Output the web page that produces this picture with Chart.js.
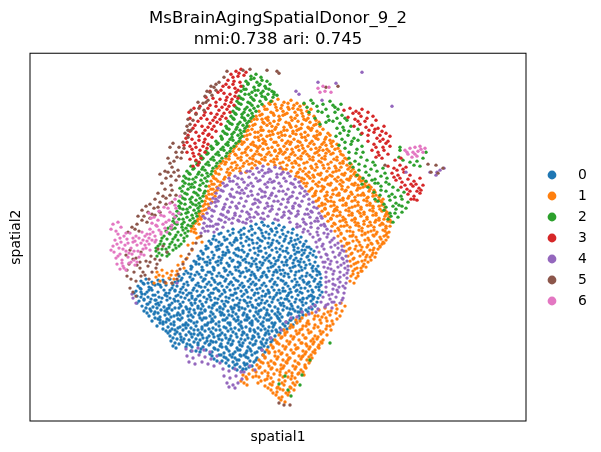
<!DOCTYPE html>
<html>
<head>
<meta charset="utf-8">
<style>
  html, body { margin: 0; padding: 0; background: #fff; }
  canvas { display: block; }
</style>
<script src="https://cdn.jsdelivr.net/npm/chart.js@4/dist/chart.umd.min.js"></script>
</head>
<body>
<canvas id="chart" width="601" height="452"></canvas>
<script>
const clusterNames = ['0', '1', '2', '3', '4', '5', '6'];
const clusterColors = ['#1f77b4', '#ff7f0e', '#2ca02c', '#d62728', '#9467bd', '#8c564b', '#e377c2'];

// flat x,y pairs
const cluster0 = [
256,224,262,222,268,226,273,223,279,225,284,227,259,228,
228,231,233,229,239,232,244,228,249,231,255,233,261,230,266,232,271,229,277,232,282,230,288,232,293,229,
214,236,219,234,224,237,230,235,236,238,241,235,247,237,252,235,258,238,263,236,269,238,275,235,280,237,286,236,291,238,297,235,301,237,
209,241,213,239,219,242,225,240,230,243,235,240,241,243,246,241,252,240,257,243,262,241,268,243,273,240,279,243,284,241,289,243,295,240,300,242,306,241,
206,246,211,244,216,247,221,245,227,247,232,245,238,248,243,246,249,245,254,248,260,246,265,248,271,245,276,248,282,246,287,248,293,245,298,248,303,246,309,247,
201,251,206,249,212,252,217,250,223,252,228,250,234,253,239,250,244,252,250,250,255,253,261,251,266,253,272,250,277,252,283,251,288,253,294,250,299,252,305,250,310,253,314,251,
198,256,203,254,208,257,214,255,219,257,225,255,230,258,236,255,241,257,247,256,252,258,258,255,263,257,269,256,274,258,280,255,285,257,291,256,296,258,302,255,307,257,313,255,
194,261,199,259,205,262,210,260,216,262,221,260,227,263,232,261,238,262,243,260,249,263,254,261,260,262,265,260,271,263,276,261,282,262,287,260,293,263,298,261,304,262,309,260,315,262,
191,266,196,264,202,267,207,265,213,267,218,265,224,268,229,266,235,267,240,265,246,268,251,266,257,267,262,265,268,268,273,266,279,267,284,265,290,268,295,266,301,267,306,265,312,268,318,266,
186,271,191,269,197,272,202,270,208,272,214,270,219,273,225,271,230,272,236,270,241,273,247,271,252,272,258,270,263,273,269,271,274,272,280,270,285,273,291,271,296,272,302,270,307,273,313,271,319,272,
179,276,184,274,190,277,195,275,201,277,206,275,212,278,217,276,223,277,228,275,234,278,240,276,245,277,251,275,256,278,262,276,267,277,273,275,278,278,284,276,289,277,295,275,300,278,306,276,312,277,317,275,321,278,
141,281,146,279,152,282,158,280,164,282,170,279,175,282,181,280,187,282,192,280,198,283,203,281,209,282,214,280,220,283,225,281,231,282,236,280,242,283,248,281,253,282,259,280,264,283,270,281,275,282,281,280,286,283,292,281,297,282,303,280,308,283,314,281,320,282,
138,286,144,284,149,287,155,285,161,287,166,285,172,288,177,286,183,287,188,285,194,288,199,286,205,287,211,285,216,288,222,286,227,287,233,285,238,288,244,286,249,287,255,285,260,288,266,286,272,287,277,285,283,288,288,286,294,287,299,285,305,288,310,286,316,287,321,285,
136,291,141,289,147,292,152,290,158,292,164,290,169,293,175,291,180,292,186,290,191,293,197,291,202,292,208,290,213,293,219,291,225,292,230,290,236,293,241,291,247,292,252,290,258,293,263,291,269,292,274,290,280,293,285,291,291,292,297,290,302,293,308,291,313,292,319,290,
137,296,142,294,148,297,153,295,159,297,165,295,170,298,176,296,181,297,187,295,192,298,198,296,204,297,209,295,215,298,220,296,226,297,231,295,237,298,242,296,248,297,254,295,259,298,265,296,270,297,276,295,281,298,287,296,292,297,298,295,303,298,309,296,314,297,320,295,
139,301,144,299,150,302,156,300,161,302,167,300,172,303,178,301,183,302,189,300,195,303,200,301,206,302,211,300,217,303,222,301,228,302,233,300,239,303,245,301,250,302,256,300,261,303,267,301,272,302,278,300,283,303,289,301,295,302,300,300,306,303,311,301,317,302,
142,306,148,304,153,307,159,305,164,307,170,305,175,308,181,306,186,307,192,305,198,308,203,306,209,307,214,305,220,308,225,306,231,307,237,305,242,308,248,306,253,307,259,305,264,308,270,306,275,307,281,305,287,308,292,306,298,307,303,305,309,308,315,306,
144,311,150,309,155,312,161,310,167,312,172,310,178,313,183,311,189,312,194,310,200,313,205,311,211,312,217,310,222,313,228,311,233,312,239,310,244,313,250,311,256,312,261,310,267,313,272,311,278,312,283,310,289,313,295,311,300,312,306,310,
149,316,154,314,160,317,165,315,171,317,177,315,182,318,188,316,193,317,199,315,204,318,210,316,215,317,221,315,227,318,232,316,238,317,243,315,249,318,254,316,260,317,266,315,271,318,277,316,282,317,288,315,293,318,299,316,303,315,
152,321,158,319,163,322,169,320,174,322,180,320,186,323,191,321,197,322,202,320,208,323,213,321,219,322,225,320,230,323,236,321,241,322,247,320,252,323,258,321,263,322,269,320,275,323,280,321,286,322,291,320,296,322,
157,326,163,324,168,327,174,325,180,327,185,325,191,328,196,326,202,327,207,325,213,328,219,326,224,327,230,325,235,328,241,326,246,327,252,325,258,328,263,326,269,327,274,325,280,328,285,326,290,327,
166,331,172,329,177,332,183,330,189,332,194,330,200,333,205,331,211,332,216,330,222,333,228,331,233,332,239,330,244,333,250,331,255,332,261,330,266,333,272,331,277,332,283,330,
170,336,175,334,181,337,186,335,192,337,198,335,203,338,209,336,214,337,220,335,226,338,231,336,237,337,242,335,248,338,253,336,259,337,265,335,270,338,275,336,
171,341,177,339,183,342,189,340,194,342,200,340,205,343,211,341,216,342,222,340,228,343,233,341,239,342,245,340,250,343,256,341,261,342,267,340,271,342,
173,346,179,344,192,347,198,345,203,347,209,345,214,348,220,346,226,347,231,345,237,348,242,346,248,347,253,345,259,348,264,346,268,347,
191,351,206,350,212,352,218,350,224,353,229,351,235,352,240,350,246,353,251,351,257,352,262,350,265,352,
212,356,219,355,224,357,230,355,235,358,241,356,246,357,252,355,257,358,
222,361,228,360,233,362,239,360,244,363,250,361,254,362,
229,366,235,365,240,367,245,365,249,367,
237,370,242,371,246,369,
// second pass, filling the gaps
264,225,276,228,241,230,252,229,269,234,292,233,298,239,221,233,227,239,233,233,244,234,260,240,283,234,304,244,
211,243,222,244,234,242,249,239,265,238,277,241,291,241,302,250,208,248,219,249,229,252,242,250,253,243,269,247,280,249,296,244,311,249,
203,253,213,258,226,253,236,249,248,254,259,251,270,255,286,251,297,252,308,256,200,258,210,263,222,258,233,260,245,259,256,259,267,258,278,260,290,258,301,259,316,257,
196,262,207,262,218,261,229,265,240,263,252,264,263,263,275,264,286,262,299,265,310,264,192,267,203,270,214,268,226,270,238,267,249,270,260,268,271,267,283,270,293,267,305,268,316,269,
188,273,199,274,210,272,221,276,232,274,243,272,254,274,266,275,277,272,288,274,299,271,310,275,320,274,
182,278,193,279,204,279,215,282,226,279,238,281,250,279,261,277,272,279,283,281,295,279,304,282,315,279,
143,283,153,284,163,280,173,285,184,284,196,285,207,284,218,284,229,284,240,285,251,284,262,285,274,284,285,284,296,285,307,284,318,284,
140,288,151,288,160,285,170,290,181,289,193,290,203,291,214,289,224,290,235,289,246,290,257,289,268,290,279,290,290,289,301,288,312,290,
134,293,145,294,155,295,166,293,178,295,189,293,200,295,211,293,222,294,233,295,244,294,255,293,266,294,277,293,288,295,300,292,311,295,322,292,
141,297,151,299,162,298,174,299,185,298,196,299,207,299,218,299,229,298,240,300,251,298,262,300,273,299,285,299,296,299,307,298,318,298,
137,303,147,304,158,303,169,305,180,304,191,303,202,304,213,305,224,304,235,305,247,303,258,304,269,305,280,303,291,304,302,302,313,304,
146,308,157,308,167,309,179,308,190,309,201,309,212,308,223,309,234,308,245,309,256,308,267,310,278,309,290,309,301,309,312,309,
147,313,158,313,169,314,180,315,191,315,202,313,213,314,224,315,236,314,247,315,258,314,269,315,280,314,291,314,302,312,
155,318,167,319,178,319,189,320,200,318,212,319,223,320,234,319,245,320,256,319,267,320,279,319,290,320,300,319,
160,323,171,324,183,325,194,323,205,325,216,324,228,323,239,324,250,323,261,324,272,323,283,324,293,325,
163,329,175,330,186,328,198,330,209,329,220,330,231,329,242,328,254,330,265,329,276,330,287,329,
168,333,180,334,191,334,202,335,213,334,225,335,236,334,247,335,258,334,269,334,280,333,
173,338,184,339,196,339,207,338,219,339,230,339,241,339,252,339,263,339,273,340,
175,343,187,344,198,343,210,344,221,344,232,344,243,343,255,344,266,343,
176,348,186,347,201,349,215,349,227,349,238,350,250,349,261,348,
196,351,210,354,221,355,233,354,244,355,255,353,263,355,
214,359,226,358,237,360,248,358,256,360,
226,363,237,364,247,364,252,366,233,368,243,369,
// third pass, loose points
237,240,251,226,272,231,216,240,294,247,223,255,258,248,279,257,304,253,199,264,238,256,287,265,212,274,264,272,300,262,191,274,246,262,276,270,317,271,
158,284,178,281,149,290,201,287,231,282,256,284,283,291,309,282,167,296,192,296,218,290,243,287,269,293,296,291,319,287,144,300,183,293,210,297,235,293,262,296,289,293,313,299,
156,304,175,301,198,306,226,301,252,305,274,297,303,299,165,311,187,309,215,303,239,307,265,303,293,309,151,311,174,316,205,310,232,309,259,311,284,306,308,312,
160,320,195,313,220,312,247,317,275,314,298,312,166,322,188,325,211,322,238,320,264,318,288,323,178,328,202,329,226,328,250,329,273,327,170,331,194,334,218,336,243,332,268,331,
181,340,207,341,229,340,254,337,190,345,213,342,240,345,262,344,200,352,222,347,247,351,217,361,240,355,232,357,
148,283,175,290,205,279,255,276,281,274,269,261,294,260,218,246,241,238,262,233,285,239,
287,299,312,296,244,300,220,307,195,300,169,308,141,292,155,300,183,313,206,318,229,315,252,321,278,318,
302,276,313,266,239,271,221,263,203,259,256,264,272,243,295,254,307,247,
// end of blue
];
const cluster1 = [
272,101,278,99,284,102,291,100,297,103,
264,106,270,104,276,107,282,105,288,107,294,105,300,106,304,104,
259,111,265,109,271,112,277,110,283,111,289,109,295,112,301,110,307,111,311,109,
256,116,262,114,268,117,274,115,279,116,285,114,291,117,297,115,303,116,309,114,314,116,
251,121,257,119,263,122,268,120,274,121,280,119,286,122,292,120,298,121,304,119,310,122,316,120,319,122,
249,126,255,124,261,127,267,125,272,126,278,124,284,127,290,125,296,126,302,124,308,127,314,125,320,126,
246,131,252,129,258,132,263,130,269,131,275,129,281,132,287,130,293,131,299,129,305,132,311,130,317,131,323,129,
244,136,250,134,255,137,261,135,267,136,273,134,279,137,285,135,290,136,296,134,302,137,308,135,314,136,320,134,326,137,330,135,
241,141,247,139,253,142,259,140,265,141,271,139,276,142,282,140,288,141,294,139,300,142,306,140,312,141,318,139,324,142,330,140,333,141,
236,146,242,144,248,147,254,145,260,146,266,144,272,147,278,145,284,146,290,144,296,147,302,145,308,146,314,144,320,147,326,145,332,146,337,144,
233,151,239,149,245,152,251,150,257,151,263,149,269,152,275,150,281,151,287,149,293,152,299,150,305,151,311,149,317,152,323,150,329,151,335,149,340,151,
229,156,235,154,241,157,247,155,253,156,259,154,265,157,271,155,277,156,283,154,289,157,295,155,301,156,307,154,313,157,319,155,325,156,331,154,337,157,343,155,
223,161,229,159,235,162,241,160,247,161,253,159,259,162,265,160,271,161,277,159,283,162,289,160,295,161,301,159,307,162,313,160,319,161,325,159,331,162,337,160,343,161,347,159,
219,166,225,164,231,167,237,165,243,166,249,164,255,165,260,163,275,165,281,167,287,165,293,167,299,165,305,168,311,166,317,167,323,165,329,168,335,166,341,167,347,165,350,167,
215,171,221,169,227,172,233,170,240,171,291,171,297,173,303,171,309,172,315,170,321,173,327,171,333,172,339,170,345,173,351,171,355,172,
213,176,219,174,225,177,229,175,296,176,302,178,308,176,314,177,320,175,326,178,332,176,338,177,344,175,350,178,356,176,360,177,
211,181,216,179,221,182,301,181,307,183,313,181,319,182,325,180,331,183,337,181,343,182,349,180,355,183,361,181,366,182,
209,186,214,184,217,187,306,186,312,188,318,186,324,187,330,185,336,188,342,186,348,187,354,185,360,188,366,186,371,187,
208,191,213,189,215,192,309,191,315,193,321,191,327,192,333,190,339,193,345,191,351,192,357,190,363,193,369,191,375,192,
206,196,212,194,313,196,319,198,325,196,331,197,337,195,343,198,349,196,355,197,361,195,367,198,373,196,379,197,
205,201,210,199,316,201,322,203,328,201,334,202,340,200,346,203,352,201,358,202,364,200,370,203,376,201,382,202,
203,206,208,204,319,206,325,208,331,206,337,207,343,205,349,208,355,206,361,207,367,205,373,208,379,206,385,207,
201,211,206,209,322,211,328,213,334,211,340,212,346,210,352,213,358,211,364,212,370,210,376,213,382,211,387,212,
199,216,203,214,325,216,331,218,337,216,343,217,349,215,355,218,361,216,367,217,373,215,379,218,385,216,389,217,
197,221,201,219,328,221,334,223,340,221,346,222,352,220,358,223,364,221,370,222,376,220,382,223,388,221,391,222,
193,226,199,224,332,226,338,228,344,226,350,227,356,225,362,228,368,226,374,227,380,225,386,228,390,226,
191,231,195,229,335,231,341,233,347,231,353,232,359,230,365,233,371,231,377,232,383,230,389,232,
338,236,344,238,350,236,356,237,362,235,368,238,374,236,380,237,386,235,388,237,
341,241,347,243,353,241,359,242,365,240,371,243,377,241,383,242,386,240,
344,246,350,248,356,246,362,247,368,245,374,248,380,246,382,244,
346,251,352,253,358,251,364,252,370,250,376,253,378,249,
348,256,354,258,360,256,366,257,372,255,375,257,
350,261,356,263,362,261,368,262,371,260,
351,266,357,268,363,266,366,267,
353,271,358,273,362,271,351,276,356,278,350,281,354,283,
// second pass
275,104,288,103,267,109,281,108,298,109,260,115,273,113,287,113,302,113,254,119,266,118,279,120,295,118,308,118,
253,125,264,123,276,127,289,123,301,128,316,124,248,130,261,130,272,131,284,130,297,130,309,128,320,133,
247,135,258,137,270,135,282,135,293,133,305,137,317,135,328,133,238,143,251,144,263,143,274,142,286,143,298,141,310,143,322,144,331,143,
234,148,246,149,258,148,268,148,280,149,292,149,303,148,316,148,327,149,338,148,230,153,242,153,255,154,267,154,279,153,291,154,303,153,315,153,326,153,341,154,
226,158,238,158,250,158,262,159,274,159,286,158,298,158,310,159,322,158,334,159,345,158,221,163,232,163,244,163,256,161,268,164,280,163,292,163,304,163,316,164,328,164,340,163,351,164,
217,168,228,169,240,168,252,168,286,169,300,169,312,168,324,168,336,168,348,169,353,169,216,173,230,173,298,172,306,174,318,174,330,175,342,174,354,174,358,175,
214,178,224,179,299,177,310,178,322,179,335,179,347,179,359,179,363,180,212,184,220,185,304,183,316,184,328,184,340,184,352,184,364,184,369,185,
211,189,217,190,311,189,323,189,336,189,346,190,358,188,370,189,374,190,209,194,215,196,315,195,327,195,339,195,352,194,364,195,376,195,
207,198,212,202,318,200,331,201,343,200,355,200,367,201,379,200,383,199,205,204,209,207,322,205,334,205,346,205,358,205,370,205,382,205,
204,210,199,213,325,209,337,210,349,211,361,209,373,211,385,210,201,217,328,214,340,215,352,215,364,214,376,215,388,214,
195,223,198,219,331,219,343,220,355,219,367,219,379,220,390,220,192,228,194,232,335,224,347,225,359,226,371,225,383,224,
339,230,350,231,362,231,374,230,385,231,341,234,353,235,365,234,376,234,387,233,345,239,357,240,369,240,381,239,
347,244,360,245,372,244,384,243,349,249,361,250,373,250,380,247,351,254,363,254,373,253,353,259,365,260,370,257,
354,264,364,264,355,269,361,268,353,274,358,276,
// third pass, loose points
269,103,293,108,283,115,262,119,306,120,270,123,291,127,312,128,255,132,278,133,301,134,325,139,263,139,244,142,291,142,316,138,
256,146,275,151,298,146,319,150,236,155,261,155,285,152,309,156,333,153,226,162,252,163,274,162,296,163,321,162,343,163,
236,168,246,172,283,169,313,175,336,171,351,176,218,181,304,179,327,177,341,180,358,185,322,186,342,189,363,187,373,193,
316,191,333,194,358,195,381,201,326,199,348,198,368,197,325,204,352,207,373,206,386,214,335,209,360,213,380,209,
333,215,355,222,375,222,345,219,364,224,384,219,341,226,368,232,386,226,352,236,373,235,384,236,349,243,367,247,378,243,
355,249,367,255,358,262,361,271,
// lower wedge
336,305,341,303,345,306,
319,310,325,308,331,311,337,309,342,311,
306,315,312,313,318,316,324,314,330,315,336,313,340,316,
296,320,302,318,308,321,314,319,320,320,326,318,332,321,337,319,
291,325,297,323,303,326,309,324,315,325,321,323,327,326,333,324,
284,330,290,328,296,331,302,329,308,330,314,328,320,331,326,329,331,330,
279,335,285,333,291,336,297,334,303,335,309,333,315,336,321,334,327,335,
275,340,281,338,287,341,293,339,299,340,305,338,311,341,317,339,323,340,
271,345,277,343,283,346,289,344,295,345,301,343,307,346,313,344,319,345,322,343,
267,350,273,348,279,351,285,349,291,350,297,348,303,351,309,349,315,350,319,348,
263,355,269,353,275,356,281,354,287,355,293,353,299,356,305,354,311,355,315,353,
259,360,265,358,271,361,277,359,283,360,289,358,295,361,301,359,307,360,312,358,
257,365,263,363,269,366,275,364,281,365,287,363,293,366,299,364,305,365,309,363,
253,370,259,368,265,371,271,369,277,370,283,368,289,371,295,369,301,370,306,368,
243,375,249,374,256,376,262,373,268,376,274,374,280,375,286,373,292,376,298,374,304,375,
241,381,247,379,261,381,267,379,273,382,279,380,285,381,291,379,297,382,
247,385,265,386,272,385,278,387,284,385,290,387,295,385,
271,390,277,392,283,390,289,392,294,390,
276,395,282,397,288,395,
281,400,285,402,
// lower wedge, second pass
328,312,315,316,300,321,327,321,293,327,306,326,318,327,330,326,287,332,299,333,311,332,323,332,282,337,294,337,306,338,318,337,
277,342,290,342,302,343,314,342,321,342,273,347,286,347,298,348,310,347,318,347,269,352,282,353,294,353,306,352,313,352,
265,357,278,357,290,358,302,357,309,357,261,362,274,363,286,362,298,363,310,361,260,367,272,368,284,366,296,367,305,367,
256,372,268,373,280,372,292,373,303,372,246,377,259,377,271,378,283,377,295,378,244,383,258,383,270,384,282,383,293,383,
268,388,280,389,291,388,273,393,286,393,279,398,
// lower wedge, loose points
322,317,307,323,285,335,300,330,313,339,279,344,296,349,306,344,275,352,288,360,303,356,268,363,281,369,299,373,253,377,265,380,288,377,277,388,
// small patch left of the blue
157,272,162,270,167,273,172,271,176,275,163,276,169,278,156,277,174,279,160,281,166,283,172,283,154,283,
178,265,183,262,187,258,181,256,192,250,188,245,193,243,197,238,184,268,159,275,171,275,177,271,
// scattered specks
196,233,199,237,202,242
];
const cluster2 = [
251,76,256,74,261,77,
246,81,251,79,257,82,262,80,267,81,
243,86,248,84,254,87,259,85,265,86,270,84,
241,91,246,89,252,92,258,90,263,91,269,89,274,92,
239,96,245,94,251,97,256,95,262,96,268,94,273,97,277,95,
237,101,243,99,248,102,254,100,260,101,266,99,271,101,
235,106,241,104,247,107,252,105,258,106,
233,111,239,109,244,112,250,110,256,111,
231,116,236,114,242,117,248,115,253,116,
228,121,234,119,240,122,245,120,249,121,
226,126,232,124,237,127,243,125,247,126,
223,131,229,129,234,132,240,130,244,131,
221,136,227,134,232,137,238,135,242,136,
216,141,222,139,228,142,233,140,239,141,
211,146,217,144,223,147,228,145,234,146,
206,151,212,149,218,152,224,150,230,151,
201,156,207,154,213,157,219,155,226,156,
196,161,202,159,208,162,214,160,220,161,
191,166,197,164,203,167,209,165,216,166,
187,171,193,169,199,172,205,170,212,171,
184,176,190,174,196,177,202,175,208,176,211,174,
183,181,189,179,195,182,201,180,207,181,
183,186,189,184,194,187,200,185,206,186,
182,191,188,189,194,192,200,190,205,191,
181,196,187,194,192,197,198,195,203,196,
179,201,185,199,191,202,196,200,202,201,
179,206,185,204,190,207,196,205,200,206,
177,211,183,209,188,212,194,210,199,211,
176,216,181,214,187,217,192,215,197,216,
173,221,179,219,184,222,190,220,195,221,
171,226,177,224,182,227,188,225,191,226,
166,231,172,229,178,232,183,230,188,231,
164,236,170,234,175,237,181,235,187,236,
161,241,167,239,172,242,178,240,184,241,
158,246,164,244,169,247,175,245,179,246,
156,251,162,249,167,252,173,250,
157,256,162,255,167,256,
// second pass
254,78,248,83,260,84,244,89,255,90,266,88,249,94,261,93,272,91,241,98,253,99,265,97,274,94,239,103,250,103,262,104,
237,108,245,109,254,108,235,113,242,114,252,113,233,118,244,118,251,118,230,123,238,124,247,123,227,128,236,129,245,128,
225,133,232,134,241,133,222,138,230,139,240,138,218,143,226,144,236,143,213,148,221,149,231,148,208,153,216,154,227,153,
203,158,211,159,222,158,199,163,206,164,217,163,194,168,202,169,213,168,189,173,198,174,207,173,186,178,193,179,205,178,
185,183,192,184,203,183,180,188,191,187,199,189,185,193,196,193,204,193,183,198,190,199,200,198,181,203,193,204,199,203,
180,208,187,209,198,208,179,213,186,213,196,213,174,218,183,219,193,218,175,223,182,224,193,223,168,228,175,228,186,228,
169,233,176,235,185,233,162,238,173,239,184,238,160,244,170,244,181,244,156,248,166,249,176,248,159,253,169,254,
// right band
304,103,311,100,317,106,323,104,330,101,335,107,341,104,309,112,315,118,322,112,328,116,335,112,342,115,320,124,326,122,333,121,340,123,347,120,
337,128,344,130,351,126,358,129,336,136,342,139,348,135,354,138,361,134,339,145,345,148,351,144,357,149,362,146,
349,158,355,161,361,157,367,160,373,162,353,167,359,170,365,166,371,169,377,171,383,168,357,175,363,178,369,175,375,179,381,176,387,178,362,184,368,187,375,183,381,186,389,184,
374,192,380,195,386,191,392,194,398,190,404,192,378,201,384,204,390,200,396,203,402,199,408,202,384,210,390,213,396,209,402,212,406,208,388,219,393,222,398,217,
// right band, second pass
307,107,313,103,326,109,333,105,318,111,338,109,345,118,329,120,337,118,343,127,349,131,340,133,345,142,352,141,358,140,
356,153,349,152,363,152,359,164,350,163,366,172,375,165,385,173,378,183,386,182,393,187,372,180,366,181,381,190,389,196,395,197,
401,196,375,199,386,207,393,206,399,205,391,216,395,213,402,206,
// upper-right and stray specks
400,150,399,157,403,160,410,162,417,161,423,158,426,152,414,165,420,166,400,147,
279,384,285,376,300,385,291,396,288,390,302,375,310,360,330,343
];
const cluster3 = [
236,71,241,69,246,72,231,74,238,76,244,75,228,80,234,81,240,82,223,86,229,87,235,88,241,86,218,92,224,93,230,94,236,92,
213,98,220,99,226,100,232,99,238,98,210,105,216,106,222,107,229,106,234,105,205,112,211,113,217,114,224,113,230,112,
201,118,207,119,213,120,220,119,226,118,195,125,202,126,208,127,214,126,221,124,190,131,196,132,203,133,209,134,216,131,
186,138,192,139,199,140,205,139,212,137,184,145,190,146,196,147,203,146,208,144,187,152,193,153,199,154,205,152,190,159,196,160,201,158,193,166,198,165,
189,112,194,108,190,118,196,113,200,106,206,97,210,91,
// second pass
239,73,233,77,226,84,233,84,238,90,221,90,227,97,235,96,216,102,225,104,231,102,208,108,219,110,227,109,204,115,215,117,222,116,
198,121,210,123,217,122,193,128,205,130,212,129,188,135,199,136,208,135,187,142,195,143,204,142,192,149,200,150,207,148,194,156,199,162,
// right side
344,110,350,108,356,111,362,109,368,112,348,117,355,119,361,116,367,118,373,116,354,126,360,124,366,127,372,125,378,128,384,126,
362,133,368,135,374,132,380,135,386,133,390,136,368,141,374,144,380,141,386,143,390,146,372,150,378,152,384,150,388,154,376,157,382,158,
388,166,394,168,400,165,406,167,392,173,398,175,404,172,410,175,396,180,402,182,408,179,414,181,420,178,401,187,407,189,413,186,419,188,423,185,408,194,414,196,420,193,411,199,417,200,
395,160,401,158,
// right side, second pass
353,113,359,113,365,121,376,120,358,121,369,130,375,129,382,131,377,138,383,139,388,141,376,147,383,147,379,155,
397,170,403,169,394,177,400,178,411,184,405,185,416,184,410,191,417,191,421,190,414,199
];
const cluster4 = [
257,168,263,166,269,169,275,167,280,168,
241,173,247,171,253,174,259,172,265,173,271,171,277,174,283,172,288,173,
229,178,235,176,242,179,249,177,256,178,263,176,270,179,277,177,284,178,290,176,295,179,
223,183,230,181,237,184,244,182,251,183,258,181,265,184,272,182,279,183,286,181,293,184,299,182,
218,188,225,186,232,189,239,187,246,188,253,186,260,189,267,187,274,188,281,186,288,189,295,187,302,188,
216,193,223,191,230,194,237,192,244,193,251,191,258,194,265,192,272,193,279,191,286,194,293,192,300,193,305,191,
213,198,220,196,227,199,234,197,241,198,248,196,255,199,262,197,269,198,276,196,283,199,290,197,297,198,304,196,309,199,
211,203,218,201,225,204,232,202,239,203,246,201,253,204,260,202,267,203,274,201,281,204,288,202,295,203,302,201,309,204,313,202,
209,208,216,206,223,209,230,207,237,208,244,206,251,209,258,207,265,208,272,206,279,209,286,207,293,208,300,206,307,209,314,207,317,208,
207,213,214,211,221,214,228,212,235,213,242,211,249,214,256,212,263,213,270,211,277,214,284,212,291,213,298,211,305,214,312,212,319,213,
205,218,212,216,219,219,226,217,233,218,240,216,247,219,254,217,261,218,268,216,275,219,282,217,289,218,296,216,303,219,310,217,317,218,321,216,
204,223,211,221,218,224,225,222,232,223,239,221,246,223,251,221,290,222,297,224,304,222,311,223,318,221,324,224,
203,228,210,226,217,229,223,227,297,227,304,229,311,227,318,228,325,226,327,229,
201,233,208,231,214,232,303,232,310,234,317,232,324,233,331,231,
313,237,320,239,327,237,334,238,316,242,323,244,330,242,338,243,
317,247,324,249,331,247,338,248,342,246,319,252,326,254,333,252,340,253,344,251,
321,257,328,259,335,257,342,258,346,256,323,262,330,264,337,262,344,263,347,261,
324,267,331,269,338,267,345,268,348,266,326,272,333,274,340,272,347,273,326,277,333,279,340,277,347,278,
326,282,333,284,340,282,346,283,326,287,333,289,339,287,345,288,326,292,332,294,338,292,344,293,
323,297,330,299,336,297,343,298,321,302,328,304,334,302,340,303,311,307,318,309,325,307,332,308,302,312,309,314,316,312,297,317,
// second pass
250,171,268,172,238,178,260,180,281,174,227,185,248,185,268,182,291,183,221,190,242,190,262,191,283,191,300,186,
219,197,231,196,252,195,271,195,292,196,215,202,236,206,258,200,278,201,299,205,212,210,228,211,247,212,268,206,289,211,311,211,
209,219,223,215,238,220,258,214,278,220,298,214,315,221,207,226,221,220,243,222,300,226,322,218,205,231,213,226,308,231,321,225,328,234,
318,235,332,240,322,246,335,245,327,255,339,255,331,261,343,259,328,268,341,265,334,271,344,275,329,281,338,279,337,290,329,295,
342,300,326,305,315,305,332,302,
// third pass
262,170,233,181,274,181,216,199,240,193,265,196,288,199,307,194,224,207,255,203,272,209,293,206,203,216,235,215,264,219,284,215,308,214,216,224,
229,219,250,217,306,224,319,240,342,250,325,262,348,270,335,285,343,286,
// lower left arc
186,349,192,351,198,348,204,350,210,352,187,356,193,358,199,355,205,357,211,359,217,356,189,362,195,364,202,362,208,364,214,366,220,363,
223,369,229,371,235,369,241,372,224,376,230,378,236,376,242,379,227,383,233,385,238,383,229,387,235,388,
// strays
271,338,262,350,286,322,281,330,291,318,177,283,133,298,136,303,132,294,255,370,244,372,250,366,406,172,392,106,362,72,
430,172,437,172,444,168,436,175,440,170,
299,94,296,91,322,100,318,82,336,83
];
const cluster5 = [
224,77,219,82,214,87,210,92,205,96,212,95,207,91,216,90,
208,100,203,103,199,108,204,110,196,114,191,110,188,119,193,120,187,126,191,130,185,133,188,137,183,142,179,147,184,148,173,143,
170,147,176,152,181,158,174,161,168,158,172,167,178,170,165,171,160,174,166,178,162,183,171,176,
176,180,171,185,165,189,158,193,163,196,155,199,160,202,166,204,172,202,150,204,146,206,154,208,142,210,148,212,
142,220,137,224,147,222,132,227,139,231,128,232,135,229,
172,190,176,195,155,215,160,212,150,218,
// second pass
216,84,211,86,206,102,198,102,190,124,188,130,182,152,177,157,170,163,174,172,168,172,179,176,170,195,166,198,158,207,152,214,144,216,138,216,
// band below the pink
130,250,126,255,133,259,129,264,136,258,141,252,127,270,134,272,140,268,146,261,151,256,158,249,163,246,
148,266,141,276,136,281,131,279,127,276,130,288,133,292,136,296,
152,272,157,264,145,275,149,279,
150,262,155,259,140,262,137,265,143,272,
// thin line along the gap
201,236,196,243,192,249,189,254,186,259,183,264,180,269,178,274,177,279,172,283,165,282,
160,260,167,252,156,268,
// strays
250,69,267,70,277,71,279,73,436,165,443,168,431,172,428,164,438,173,326,87,338,86,279,403,284,405,290,405,
243,70,227,71,385,165
];
const cluster6 = [
113,224,118,222,111,229,116,231,121,227,
149,213,154,217,159,211,164,207,170,203,175,199,180,196,152,223,158,220,164,216,170,212,176,208,150,229,157,226,163,224,169,220,175,217,179,213,
147,234,153,232,159,230,165,228,172,225,177,222,143,240,149,238,155,236,161,234,167,232,
118,234,124,236,130,233,136,236,142,232,115,240,121,242,127,239,133,242,139,238,145,245,
113,246,119,248,125,245,131,248,137,245,143,249,149,244,155,242,114,252,120,254,126,251,132,254,138,251,144,255,150,250,
116,258,122,260,128,257,134,260,139,257,117,264,123,266,129,263,135,265,120,269,126,270,
// second pass
151,218,161,215,168,208,175,205,156,225,166,222,173,214,150,234,161,232,171,228,145,236,156,240,126,233,133,238,120,238,141,243,
117,244,128,243,135,241,147,241,111,250,123,249,134,251,146,248,152,240,118,256,129,253,141,254,122,263,131,262,137,262,124,268,
// upper-right patch
405,150,410,148,415,147,420,146,425,148,408,154,413,152,418,151,423,152,412,157,417,156,407,152,421,149,415,154,
// small top-right cluster
318,88,323,86,329,87,325,91,331,92,320,92
];
const clusterPoints = [cluster0, cluster1, cluster2, cluster3, cluster4, cluster5, cluster6];

const frameAndLegend = {
  id: 'frameAndLegend',
  afterDraw(chart) {
    const { ctx, chartArea } = chart;
    ctx.save();
    ctx.strokeStyle = '#000';
    ctx.lineWidth = 1;
    ctx.strokeRect(chartArea.left, chartArea.top, chartArea.width, chartArea.height);
    ctx.font = '13.9px "DejaVu Sans"';
    ctx.textBaseline = 'middle';
    clusterNames.forEach((name, i) => {
      const y = 175 + i * 21;
      ctx.fillStyle = clusterColors[i];
      ctx.beginPath();
      ctx.arc(chartArea.right + 26, y, 4.4, 0, Math.PI * 2);
      ctx.fill();
      ctx.fillStyle = '#000';
      ctx.fillText(name, chartArea.right + 52, y);
    });
    ctx.restore();
  },
};

function toPoints(flat) {
  const points = [];
  for (let i = 0; i < flat.length; i += 2) {
    points.push({ x: flat[i], y: flat[i + 1] });
  }
  return points;
}

new Chart(document.getElementById('chart'), {
  type: 'scatter',
  data: {
    datasets: clusterNames.map((name, i) => ({
      label: name,
      data: toPoints(clusterPoints[i]),
      backgroundColor: clusterColors[i],
      borderWidth: 0,
      pointRadius: 1.7,
      order: clusterNames.length - i,
    })),
  },
  options: {
    responsive: false,
    animation: false,
    layout: { padding: { left: 8, right: 75, top: 8, bottom: 6 } },
    plugins: {
      legend: { display: false },
      tooltip: { enabled: false },
      title: {
        display: true,
        fullSize: false,
        text: ['MsBrainAgingSpatialDonor_9_2', 'nmi:0.738 ari: 0.745'],
        color: '#000',
        font: { family: 'DejaVu Sans', size: 16.5, weight: 'normal', lineHeight: 1.28 },
        padding: { top: 0, bottom: 3 },
      },
    },
    scales: {
      x: {
        min: 30, max: 526,
        afterFit(scale) { scale.height = 25; },
        grid: { display: false },
        border: { display: false },
        ticks: { display: false },
        title: { display: true, text: 'spatial1', color: '#000', font: { family: 'DejaVu Sans', size: 13.9 }, padding: { top: 4, bottom: 0 } },
      },
      y: {
        reverse: true,
        min: 53, max: 421,
        afterFit(scale) { scale.width = 22; },
        grid: { display: false },
        border: { display: false },
        ticks: { display: false },
        title: { display: true, text: 'spatial2', color: '#000', font: { family: 'DejaVu Sans', size: 13.9 }, padding: { top: 0, bottom: 4 } },
      },
    },
  },
  plugins: [frameAndLegend],
});
</script>
</body>
</html>
